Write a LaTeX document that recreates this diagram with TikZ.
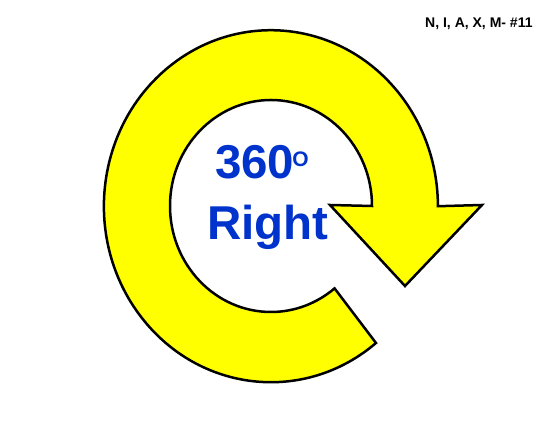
\documentclass[tikz,border=0pt]{standalone}
\usepackage{fontspec}
\setmainfont{Liberation Sans}
\usetikzlibrary{positioning}
\definecolor{cyellow}{HTML}{FFFF00}
\definecolor{cblue}{HTML}{0033CC}
\tikzset{
  every picture/.style={font=\bfseries, x=1pt, y=1pt},
  ring/.style={draw=black, fill=cyellow, line width=2.5pt, line join=miter},
  bigtext/.style={font=\fontsize{47.5}{57}\selectfont\bfseries, text=cblue, inner sep=0pt},
  tag/.style={font=\fontsize{14}{16}\selectfont\bfseries, inner sep=0pt},
}
\begin{document}
\begin{tikzpicture}
  \useasboundingbox (0,0) rectangle (550,425);
  % curved arrow
  \draw[ring] (482,220) -- (405,139) -- (330,220) -- (372,219)
    arc[start angle=0, end angle=309, x radius=101, y radius=106]
    -- (376,82)
    arc[start angle=309, end angle=0, x radius=167, y radius=176]
    -- cycle;
  % labels
  \node[bigtext, anchor=base west] (deg) at (216,246)
    {\kern-1pt 3\kern-0.5pt 6\kern-0.5pt 0\kern-1pt\raisebox{12pt}{\fontsize{21}{21}\selectfont O}};
  \node[bigtext, anchor=base] (dir) at (268,185) {Right};
  \node[tag, anchor=base west] (code) at (425,397) {N, I, A, X, M- \#11};
\end{tikzpicture}
\end{document}
